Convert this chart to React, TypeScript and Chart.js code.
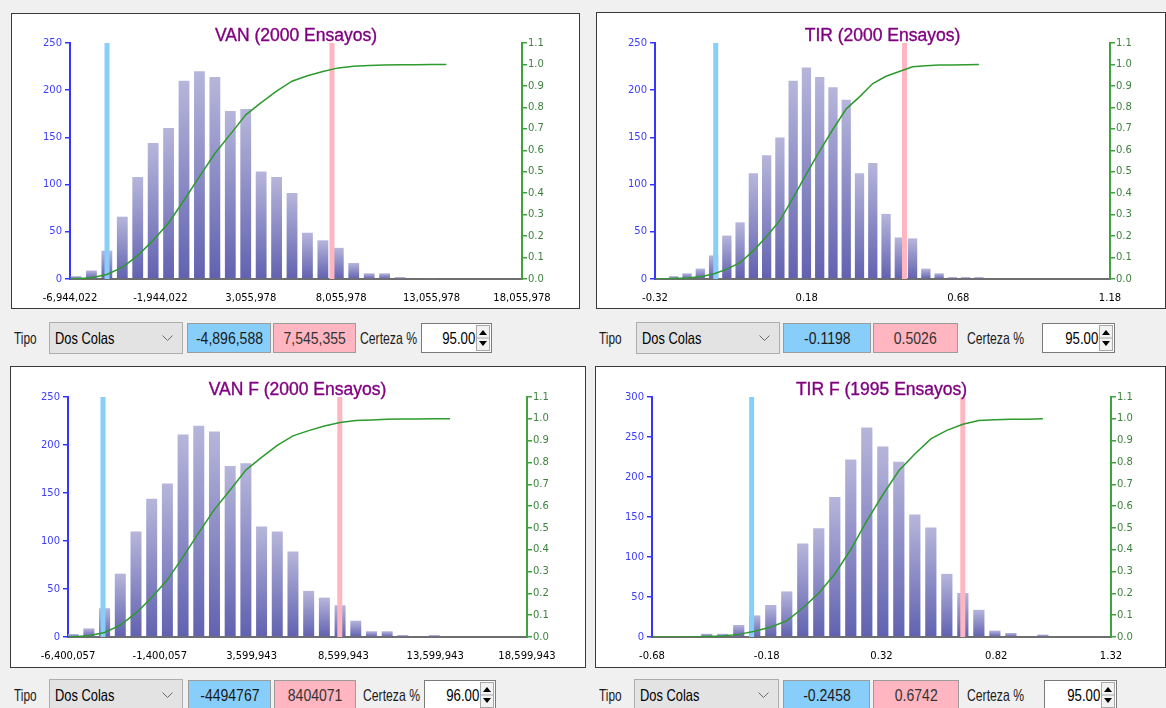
import React, { useEffect, useRef } from 'react';
import { Chart, registerables } from 'chart.js';

Chart.register(...registerables);

// ---------------- data ----------------
const cdfTicks = [0, 0.1, 0.2, 0.3, 0.4, 0.5, 0.6, 0.7, 0.8, 0.9, 1.0, 1.1];
const countTicks250 = [0, 50, 100, 150, 200, 250];
const countTicks300 = [0, 50, 100, 150, 200, 250, 300];

// VAN
const vanTitle = 'VAN (2000 Ensayos)';
const vanXTicks = [-6944022, -1944022, 3055978, 8055978, 13055978, 18055978];
const vanFirstBinCenter = -6612000;
const vanBinWidth = 853400;
const vanCounts = [3, 9, 30, 66, 108, 144, 160, 210, 220, 214, 178, 180, 114, 108, 91, 49, 41, 33, 17, 6, 6, 2, 0, 1, 0];
const vanCdf = [0.0015, 0.006, 0.021, 0.054, 0.109, 0.181, 0.261, 0.367, 0.477, 0.585, 0.674, 0.765, 0.822, 0.876, 0.922, 0.947, 0.967, 0.984, 0.992, 0.995, 0.998, 0.999, 0.999, 1.0, 1.0];
const vanLimits = [-4896588, 7545355];
const vanLimitText = ['-4,896,588', '7,545,355'];
const vanCerteza = '95.00';

// TIR
const tirTitle = 'TIR (2000 Ensayos)';
const tirXTicks = [-0.32, 0.18, 0.68, 1.18];
const tirFirstBinCenter = -0.3019;
const tirBinWidth = 0.04374;
const tirCounts = [1, 3, 6, 11, 25, 46, 60, 112, 131, 150, 210, 224, 214, 203, 190, 112, 123, 69, 44, 43, 11, 6, 2, 2, 2];
const tirCdf = [0.0005, 0.002, 0.005, 0.0105, 0.023, 0.046, 0.076, 0.132, 0.198, 0.273, 0.378, 0.49, 0.597, 0.698, 0.793, 0.849, 0.911, 0.945, 0.967, 0.989, 0.994, 0.997, 0.998, 0.999, 1.0];
const tirLimits = [-0.1198, 0.5026];
const tirLimitText = ['-0.1198', '0.5026'];
const tirCerteza = '95.00';

// VAN F
const vanFTitle = 'VAN F (2000 Ensayos)';
const vanFXTicks = [-6400057, -1400057, 3599943, 8599943, 13599943, 18599943];
const vanFFirstBinCenter = -6116800;
const vanFBinWidth = 855000;
const vanFCounts = [3, 9, 30, 66, 110, 144, 160, 211, 220, 214, 178, 181, 115, 110, 89, 48, 41, 33, 17, 6, 6, 2, 0, 2, 0];
const vanFCdf = [0.0015, 0.006, 0.021, 0.054, 0.109, 0.181, 0.262, 0.367, 0.478, 0.585, 0.674, 0.765, 0.823, 0.878, 0.922, 0.946, 0.967, 0.983, 0.992, 0.995, 0.998, 0.999, 0.999, 1.0, 1.0];
const vanFLimits = [-4494767, 8404071];
const vanFLimitText = ['-4494767', '8404071'];
const vanFCerteza = '96.00';

// TIR F
const tirFTitle = 'TIR F (1995 Ensayos)';
const tirFXTicks = [-0.68, -0.18, 0.32, 0.82, 1.32];
const tirFFirstBinCenter = -0.6508;
const tirFBinWidth = 0.06975;
const tirFCounts = [1, 0, 0, 4, 4, 15, 27, 40, 57, 117, 136, 175, 222, 262, 238, 219, 153, 137, 79, 55, 34, 8, 5, 0, 3];
const tirFCdf = [0.0005, 0.0005, 0.0005, 0.0025, 0.0045, 0.012, 0.026, 0.046, 0.074, 0.133, 0.201, 0.289, 0.401, 0.532, 0.652, 0.762, 0.839, 0.908, 0.947, 0.975, 0.992, 0.996, 0.998, 0.998, 1.0];
const tirFLimits = [-0.2458, 0.6742];
const tirFLimitText = ['-0.2458', '0.6742'];
const tirFCerteza = '95.00';

// ---------------- helpers ----------------
const fmtInt = (v: number) => {
  const s = Math.round(Math.abs(v)).toString().replace(/\B(?=(\d{3})+(?!\d))/g, ',');
  return (v < 0 ? '-' : '') + s;
};
const fmt2 = (v: number) => Number(v).toFixed(2);

type Spec = {
  title: string;
  xTicks: number[];
  yTicks: number[];
  firstBin: number;
  binWidth: number;
  counts: number[];
  cdf: number[];
  limits: number[];
  fmt: (v: number) => string;
};

const specs: Spec[] = [
  { title: vanTitle, xTicks: vanXTicks, yTicks: countTicks250, firstBin: vanFirstBinCenter, binWidth: vanBinWidth, counts: vanCounts, cdf: vanCdf, limits: vanLimits, fmt: fmtInt },
  { title: tirTitle, xTicks: tirXTicks, yTicks: countTicks250, firstBin: tirFirstBinCenter, binWidth: tirBinWidth, counts: tirCounts, cdf: tirCdf, limits: tirLimits, fmt: fmt2 },
  { title: vanFTitle, xTicks: vanFXTicks, yTicks: countTicks250, firstBin: vanFFirstBinCenter, binWidth: vanFBinWidth, counts: vanFCounts, cdf: vanFCdf, limits: vanFLimits, fmt: fmtInt },
  { title: tirFTitle, xTicks: tirFXTicks, yTicks: countTicks300, firstBin: tirFFirstBinCenter, binWidth: tirFBinWidth, counts: tirFCounts, cdf: tirFCdf, limits: tirFLimits, fmt: fmt2 },
];

const BAR_TOP = '#b6b6db';
const BAR_BOTTOM = '#6161b0';
const BLUE_AXIS = '#3535ff';
const GREEN_AXIS = '#3ea33e';
const GREEN_LABEL = '#3f823f';
const CURVE = '#2c9a2c';
const LOW_COLOR = '#87cefa';
const HIGH_COLOR = '#ffb6c1';
const tickFont = { family: "'DejaVu Sans', sans-serif", size: 10 };

function buildConfig(spec: Spec, dims: { lw: number; rw: number; top: number; xh: number }) {
  const centers = spec.counts.map((_, i) => spec.firstBin + i * spec.binWidth);
  const bars = spec.counts.map((c, i) => ({ x: centers[i], y: c }));
  const curve = [{ x: spec.xTicks[0], y: 0 }, ...spec.cdf.map((v, i) => ({ x: centers[i], y: v }))];
  const yMax = spec.yTicks[spec.yTicks.length - 1];
  const xMin = spec.xTicks[0];
  const xMax = spec.xTicks[spec.xTicks.length - 1];

  return {
    type: 'bar',
    data: {
      datasets: [
        {
          type: 'line',
          data: curve,
          yAxisID: 'y1',
          borderColor: CURVE,
          borderWidth: 1.5,
          pointRadius: 0,
          tension: 0,
          fill: false,
          order: 1,
        },
        {
          type: 'line',
          data: [{ x: spec.limits[0], y: 0 }, { x: spec.limits[0], y: yMax }],
          yAxisID: 'y',
          borderColor: LOW_COLOR,
          borderWidth: 5,
          pointRadius: 0,
          order: 2,
        },
        {
          type: 'line',
          data: [{ x: spec.limits[1], y: 0 }, { x: spec.limits[1], y: yMax }],
          yAxisID: 'y',
          borderColor: HIGH_COLOR,
          borderWidth: 5,
          pointRadius: 0,
          order: 2,
        },
        {
          type: 'bar',
          data: bars,
          yAxisID: 'y',
          barPercentage: 0.7,
          categoryPercentage: 1,
          borderWidth: 0,
          order: 3,
          backgroundColor: (c: any) => {
            const chart = c.chart;
            if (c.type !== 'data' || !chart.chartArea || !chart.scales.y) return BAR_BOTTOM;
            const ys = chart.scales.y;
            const top = ys.getPixelForValue(c.parsed ? c.parsed.y : 0);
            const bottom = ys.getPixelForValue(0);
            if (!isFinite(top) || !isFinite(bottom) || bottom - top < 0.5) return BAR_BOTTOM;
            const g = chart.ctx.createLinearGradient(0, top, 0, bottom);
            g.addColorStop(0, BAR_TOP);
            g.addColorStop(1, BAR_BOTTOM);
            return g;
          },
        },
      ],
    },
    options: {
      animation: false,
      responsive: false,
      maintainAspectRatio: false,
      devicePixelRatio: 1,
      layout: { padding: { top: dims.top, left: 0, right: 0, bottom: 0 } },
      plugins: {
        legend: { display: false },
        tooltip: { enabled: false },
        title: { display: false },
      },
      scales: {
        x: {
          type: 'linear',
          min: xMin,
          max: xMax,
          offset: false,
          afterBuildTicks: (s: any) => {
            s.ticks = spec.xTicks.map((v) => ({ value: v }));
          },
          afterFit: (s: any) => {
            s.height = dims.xh;
          },
          grid: { display: false },
          border: { display: true, color: '#6e6e6e', width: 2 },
          ticks: {
            autoSkip: false,
            maxRotation: 0,
            minRotation: 0,
            padding: 5,
            color: '#000000',
            font: tickFont,
            callback: (v: any) => spec.fmt(Number(v)),
          },
        },
        y: {
          type: 'linear',
          position: 'left',
          min: 0,
          max: yMax,
          afterBuildTicks: (s: any) => {
            s.ticks = spec.yTicks.map((v) => ({ value: v }));
          },
          afterFit: (s: any) => {
            s.width = dims.lw;
          },
          grid: { display: true, drawOnChartArea: false, drawTicks: true, tickLength: 5, color: BLUE_AXIS, lineWidth: 1.5 },
          border: { display: true, color: BLUE_AXIS, width: 2 },
          ticks: { padding: 3, color: '#3d3dff', font: tickFont, callback: (v: any) => String(v) },
        },
        y1: {
          type: 'linear',
          position: 'right',
          min: 0,
          max: 1.1,
          afterBuildTicks: (s: any) => {
            s.ticks = cdfTicks.map((v) => ({ value: v }));
          },
          afterFit: (s: any) => {
            s.width = dims.rw;
          },
          grid: { display: true, drawOnChartArea: false, drawTicks: true, tickLength: 5, color: GREEN_AXIS, lineWidth: 1.5 },
          border: { display: true, color: GREEN_AXIS, width: 2 },
          ticks: { padding: 1, color: GREEN_LABEL, font: tickFont, callback: (v: any) => Number(v).toFixed(1) },
        },
      },
    },
  } as any;
}

type Box = { x: number; y: number; w: number; h: number };
type Plot = { l: number; t: number; r: number; b: number };

function HistPanel({ spec, box, plot }: { spec: Spec; box: Box; plot: Plot }) {
  const ref = useRef<HTMLCanvasElement>(null);
  const cw = box.w - 2;
  const ch = box.h - 2;
  const ox = box.x + 1;
  const oy = box.y + 1;
  useEffect(() => {
    const dims = { lw: plot.l - ox, rw: ox + cw - plot.r, top: plot.t - oy, xh: oy + ch - plot.b };
    const chart = new Chart(ref.current as HTMLCanvasElement, buildConfig(spec, dims));
    return () => chart.destroy();
  }, []);
  return (
    <>
      <div
        style={{
          position: 'absolute',
          left: box.x,
          top: box.y,
          width: box.w,
          height: box.h,
          boxSizing: 'border-box',
          border: '1px solid #3a3a3a',
          background: '#ffffff',
        }}
      >
        <canvas ref={ref} width={cw} height={ch} style={{ position: 'absolute', left: 0, top: 0, width: cw, height: ch }} />
      </div>
      <div
        style={{
          position: 'absolute',
          left: plot.l,
          width: plot.r - plot.l,
          top: plot.t - 16,
          height: 17,
          lineHeight: '17px',
          fontSize: 17.5,
          fontFamily: "'Liberation Sans', Arial, sans-serif",
          color: '#800080',
          WebkitTextStroke: '0.35px #800080',
          textAlign: 'center',
          whiteSpace: 'nowrap',
        } as any}
      >
        {spec.title}
      </div>
    </>
  );
}

const Narrow = ({ text, origin, k }: { text: string; origin: string; k: number }) => (
  <span style={{ display: 'inline-block', transform: `scaleX(${k})`, transformOrigin: origin, whiteSpace: 'nowrap' }}>{text}</span>
);

type RowPos = { tipo: number; combo: number[]; blue: number[]; pink: number[]; certeza: number; spin: number[] };

function ControlRow({ top, pos, low, high, cert }: { top: number; pos: RowPos; low: string; high: string; cert: string }) {
  const h = 32;
  const base: any = {
    position: 'absolute',
    top,
    height: h,
    lineHeight: h + 'px',
    fontSize: 16.5,
    fontFamily: "'Liberation Sans', Arial, sans-serif",
    color: '#1a1a1a',
    boxSizing: 'border-box',
    whiteSpace: 'nowrap',
  };
  const box: any = { ...base, top: top + 1, height: 30, lineHeight: '28px', textAlign: 'center' };
  return (
    <>
      <div style={{ ...base, left: pos.tipo }}>
        <Narrow text="Tipo" origin="left center" k={0.72} />
      </div>
      <div
        style={{
          ...base,
          left: pos.combo[0],
          width: pos.combo[1],
          background: '#e3e3e3',
          border: '1px solid #adadad',
          lineHeight: h - 2 + 'px',
          paddingLeft: 5,
          color: '#000',
        }}
      >
        <Narrow text="Dos Colas" origin="left center" k={0.78} />
        <svg style={{ position: 'absolute', right: 9, top: 12 }} width="11" height="7">
          <polyline points="0.5,0.5 5.5,5.5 10.5,0.5" fill="none" stroke="#6a6a6a" strokeWidth="1" />
        </svg>
      </div>
      <div style={{ ...box, left: pos.blue[0], width: pos.blue[1], background: LOW_COLOR, border: '1px solid #9c9c9c' }}>
        <Narrow text={low} origin="center center" k={0.85} />
      </div>
      <div style={{ ...box, left: pos.pink[0], width: pos.pink[1], background: HIGH_COLOR, border: '1px solid #9c9c9c', color: '#333' }}>
        <Narrow text={high} origin="center center" k={0.85} />
      </div>
      <div style={{ ...base, left: pos.certeza }}>
        <Narrow text="Certeza %" origin="left center" k={0.74} />
      </div>
      <div
        style={{
          ...box,
          left: pos.spin[0],
          width: pos.spin[1],
          background: '#ffffff',
          border: '1px solid #7a7a7a',
          textAlign: 'right',
          paddingRight: 16,
          color: '#000',
        }}
      >
        <Narrow text={cert} origin="right center" k={0.8} />
        <svg style={{ position: 'absolute', right: 1, top: 1 }} width="14" height="26">
          <rect x="0.5" y="0.5" width="13" height="25" fill="#f2f2f2" stroke="#a8a8a8" strokeWidth="1" />
          <line x1="0" y1="13" x2="14" y2="13" stroke="#a8a8a8" strokeWidth="1" />
          <polygon points="3,10 11,10 7,5" fill="#000" />
          <polygon points="3,16 11,16 7,21" fill="#000" />
        </svg>
      </div>
    </>
  );
}

export default function App() {
  return (
    <div
      style={{
        position: 'fixed',
        left: 0,
        top: 0,
        width: 1166,
        height: 708,
        background: '#f0f0f0',
        overflow: 'hidden',
      }}
    >
      <HistPanel spec={specs[0]} box={{ x: 11, y: 13, w: 569, h: 296 }} plot={{ l: 70, t: 43, r: 522, b: 279 }} />
      <HistPanel spec={specs[1]} box={{ x: 596, y: 12, w: 570, h: 297 }} plot={{ l: 655, t: 43, r: 1110, b: 279 }} />
      <HistPanel spec={specs[2]} box={{ x: 10, y: 366, w: 576, h: 302 }} plot={{ l: 68, t: 397, r: 527, b: 637 }} />
      <HistPanel spec={specs[3]} box={{ x: 595, y: 366, w: 571, h: 302 }} plot={{ l: 652, t: 397, r: 1111, b: 637 }} />

      <ControlRow
        top={322}
        pos={{ tipo: 14, combo: [49, 134], blue: [187, 84], pink: [273, 83], certeza: 360, spin: [421, 71] }}
        low={vanLimitText[0]}
        high={vanLimitText[1]}
        cert={vanCerteza}
      />
      <ControlRow
        top={322}
        pos={{ tipo: 599, combo: [636, 144], blue: [783, 88], pink: [873, 85], certeza: 967, spin: [1042, 73] }}
        low={tirLimitText[0]}
        high={tirLimitText[1]}
        cert={tirCerteza}
      />
      <ControlRow
        top={679}
        pos={{ tipo: 14, combo: [49, 134], blue: [188, 83], pink: [274, 82], certeza: 363, spin: [424, 72] }}
        low={vanFLimitText[0]}
        high={vanFLimitText[1]}
        cert={vanFCerteza}
      />
      <ControlRow
        top={679}
        pos={{ tipo: 599, combo: [634, 145], blue: [783, 87], pink: [873, 86], certeza: 967, spin: [1044, 73] }}
        low={tirFLimitText[0]}
        high={tirFLimitText[1]}
        cert={tirFCerteza}
      />
    </div>
  );
}
